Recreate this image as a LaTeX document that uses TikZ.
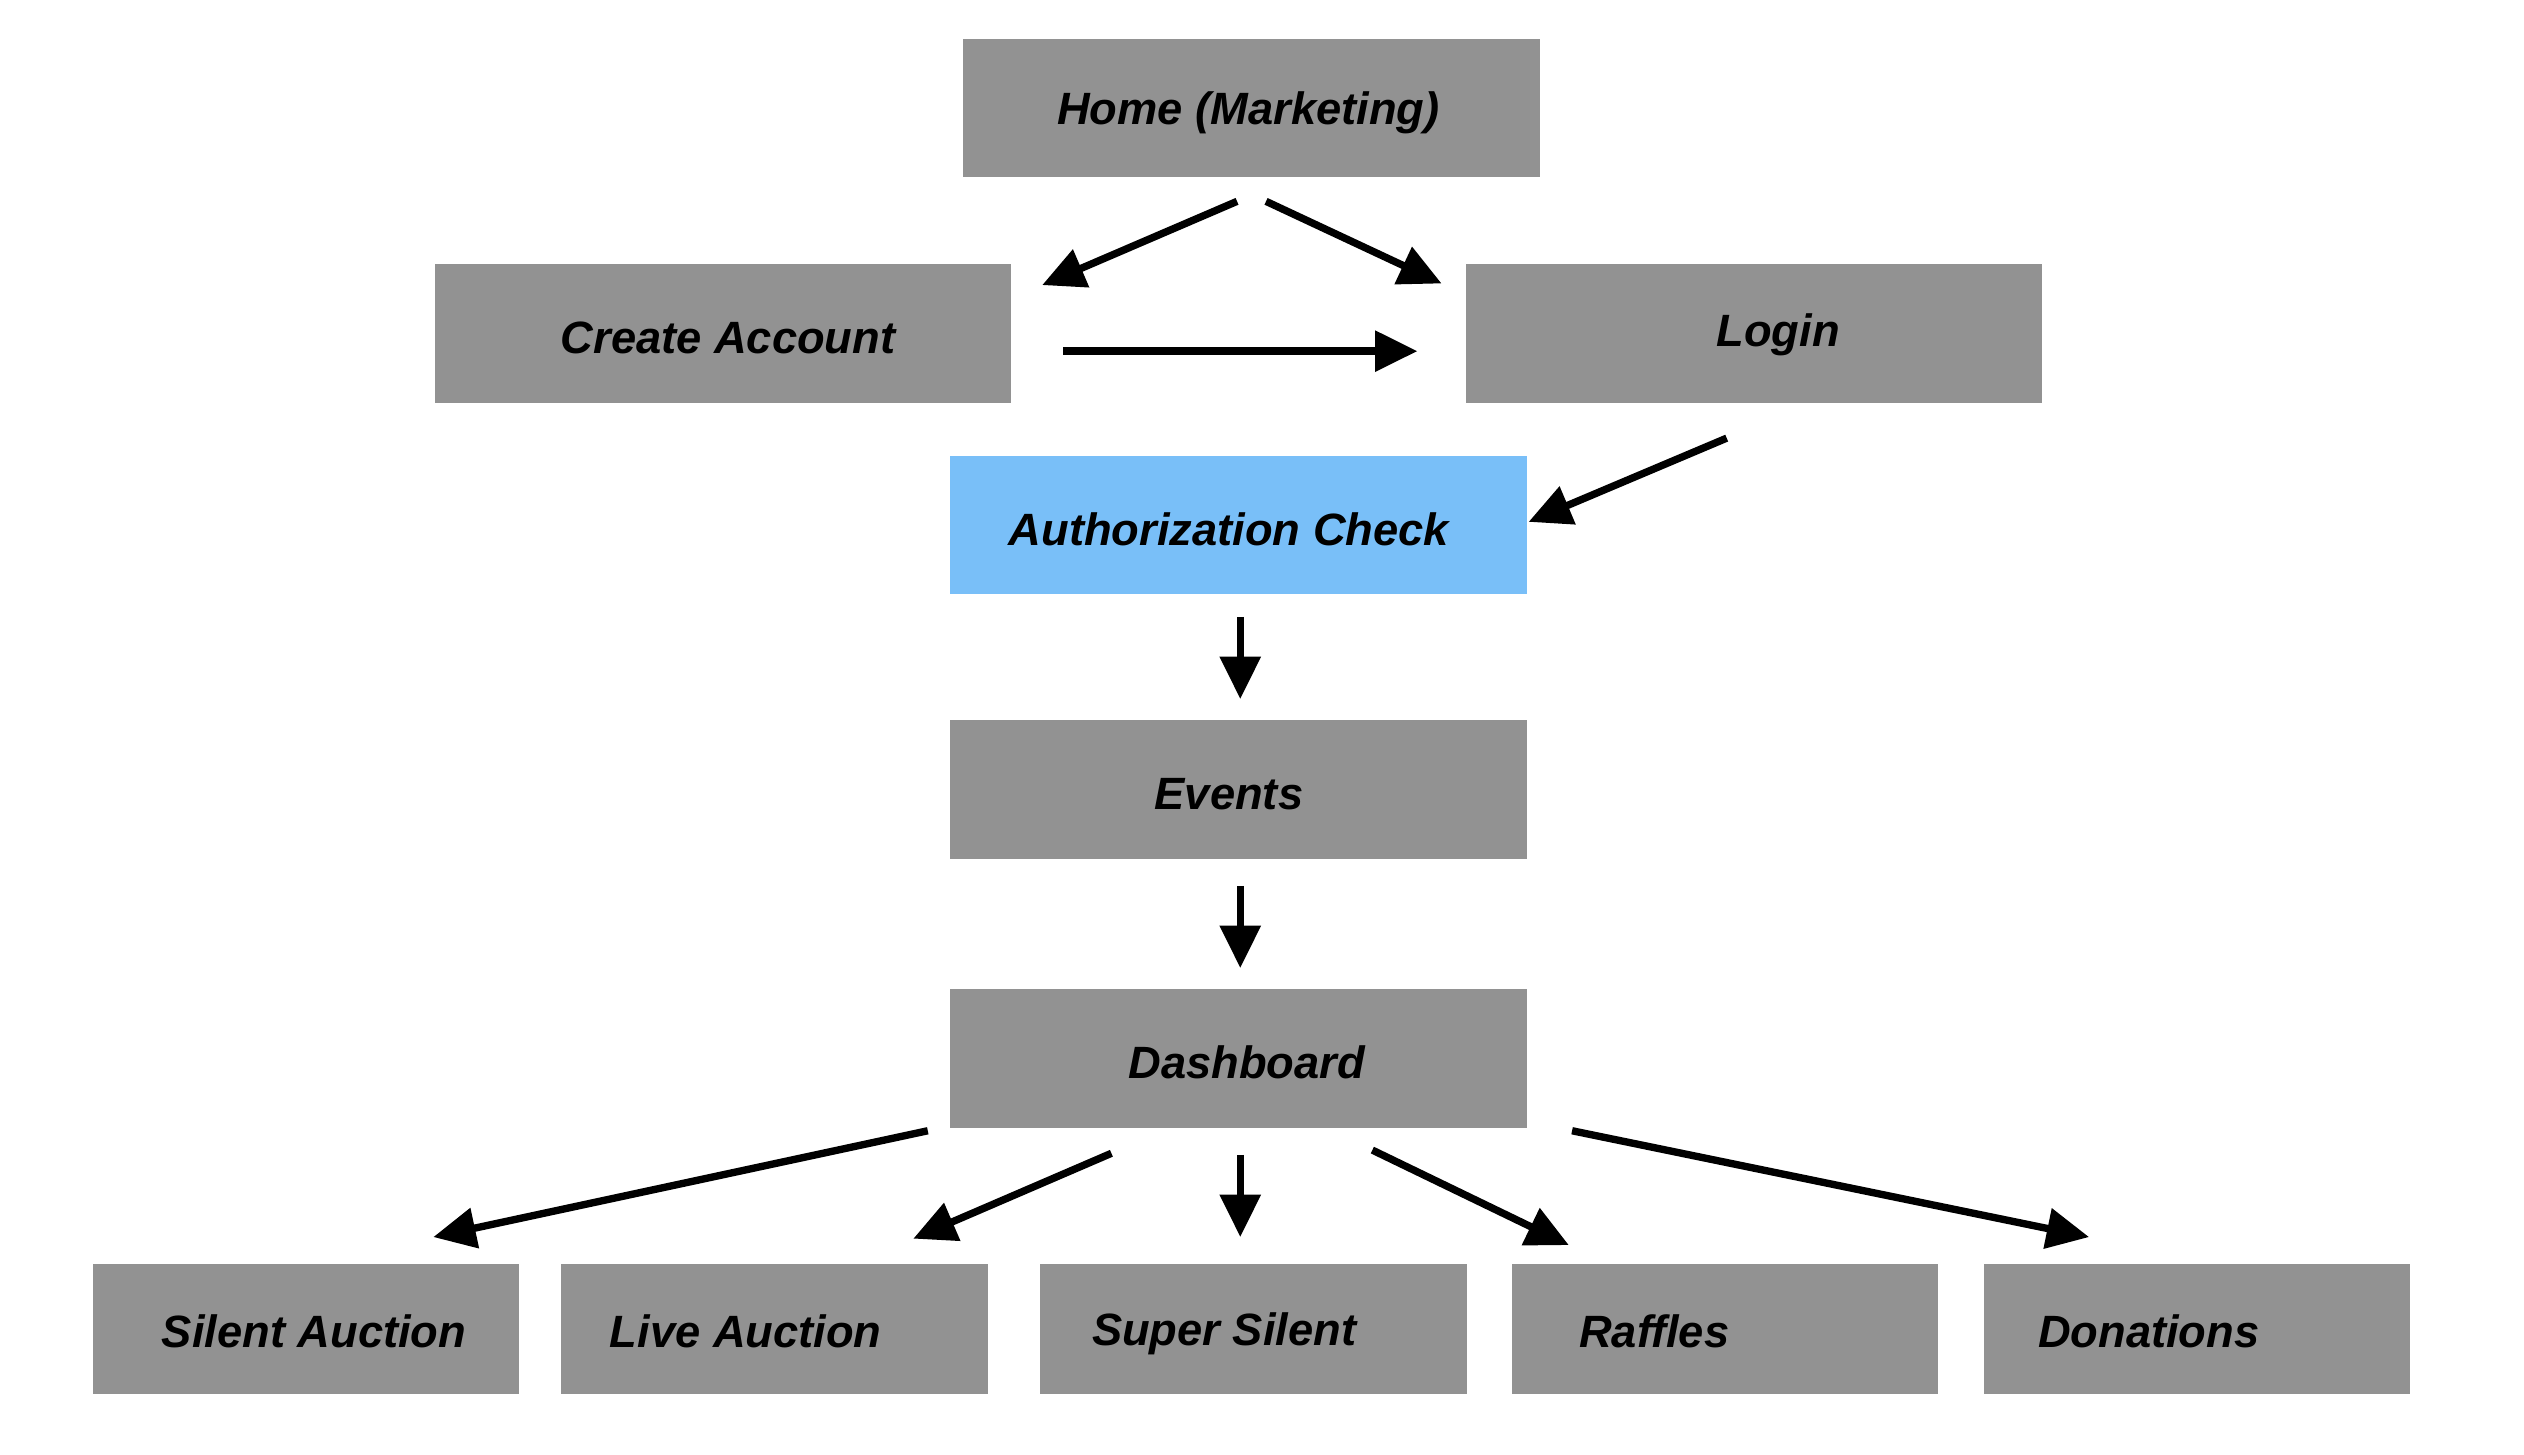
\documentclass[tikz,border=0pt]{standalone}
\usepackage{fontspec}
\setmainfont{Liberation Sans}
\usepackage{xcolor}
\usetikzlibrary{arrows.meta}
\usetikzlibrary{positioning}
\definecolor{boxgrey}{HTML}{929292}
\definecolor{authblue}{HTML}{79BFF8}

\begin{document}
\begin{tikzpicture}[x=0.02cm,y=-0.02cm,-{Triangle[length=15pt,width=14pt]},line width=2.6pt,auto]
 				 \tikzstyle{every box}=[draw=none, fill=boxgrey, inner sep=0pt, minimum width=7.16cm, minimum height=1.72cm]
 				 \tikzstyle{small box}=[every box, minimum width=5.3cm, minimum height=1.62cm]
 				 \tikzstyle{label}=[inner sep=0pt, yshift=-1.6pt, text=black, font=\fontsize{16}{19}\selectfont\bfseries\itshape]
 				 \useasboundingbox (0,0) rectangle (1567,903);
 					 % boxes
 					 \node[every box] 			(H) at (777,67)            {};
 					 \node[every box] 			(C) at (449,207)           {};
 					 \node[every box] 			(L) at (1089,207)          {};
 					 \node[every box, fill=authblue] (A) at (769,326)      {};
 					 \node[every box] 			(E) at (769,490)           {};
 					 \node[every box] 			(D) at (769,657)           {};
 					 \node[small box] 			(S) at (190,825)           {};
 					 \node[small box] 			(V) at (481,825)           {};
 					 \node[small box] 			(U) at (778,825)           {};
 					 \node[small box] 			(R) at (1071,825)          {};
 					 \node[small box] 			(N) at (1364,825)          {};
 					 % texts
 					 \node[label] 			(Ht) at (775,67)           {Home (Marketing)};
 					 \node[label] 			(Ct) at (452,207)          {Create Account};
 					 \node[label] 			(Lt) at (1104,205)         {Login};
 					 \node[label] 			(At) at (763,326)          {Authorization Check};
 					 \node[label] 			(Et) at (763,490)          {Events};
 					 \node[label] 			(Dt) at (774,657)          {Dashboard};
 					 \node[label] 			(St) at (195,824)          {Silent Auction};
 					 \node[label] 			(Vt) at (463,824)          {Live Auction};
 					 \node[label] 			(Ut) at (760,825)          {Super Silent};
 					 \node[label] 			(Rt) at (1027,824)         {Raffles};
 					 \node[label] 			(Nt) at (1334,824)         {Donations};
 					 % arrow ends
 					 \coordinate (h1) at (768,125);  \coordinate (c1) at (647,177);
 					 \coordinate (h2) at (786,125);  \coordinate (l1) at (895,176);
 					 \coordinate (c2) at (660,218);  \coordinate (l2) at (880,218);
 					 \coordinate (l3) at (1072,272); \coordinate (a1) at (949,324);
 					 \coordinate (a2) at (770,383);  \coordinate (e1) at (770,434);
 					 \coordinate (e2) at (770,550);  \coordinate (d1) at (770,601);
 					 \coordinate (d2) at (576,702);  \coordinate (s1) at (269,768);
 					 \coordinate (d3) at (690,716);  \coordinate (v1) at (567,769);
 					 \coordinate (d4) at (770,717);  \coordinate (u1) at (770,768);
 					 \coordinate (d5) at (852,714);  \coordinate (r1) at (974,773);
 					 \coordinate (d6) at (976,702);  \coordinate (n1) at (1297,768);
				\path
				(h1) edge (c1)
				(h2) edge (l1)
				(c2) edge (l2)
				(l3) edge (a1)
				(a2) edge (e1)
				(e2) edge (d1)
				(d2) edge (s1)
				(d3) edge (v1)
				(d4) edge (u1)
				(d5) edge (r1)
				(d6) edge (n1);
\end{tikzpicture}
\end{document}
